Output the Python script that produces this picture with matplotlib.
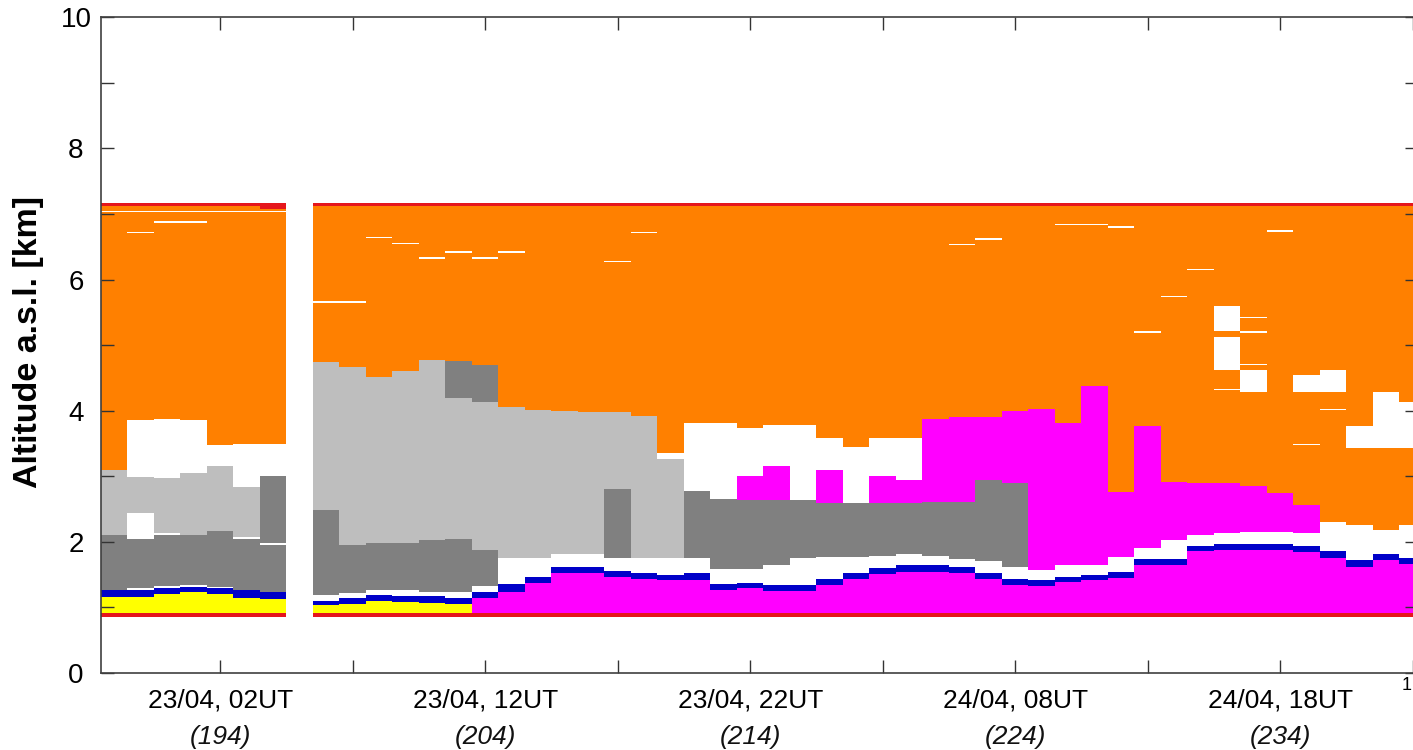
import numpy as np
import matplotlib
matplotlib.use("Agg")
import matplotlib.pyplot as plt
from matplotlib.colors import ListedColormap, BoundaryNorm

plt.rcParams['font.family'] = ['Liberation Sans', 'DejaVu Sans']

# ---------------- data (profile numbers = hourly profiles) ----------------
profiles = [190, 191, 192, 193, 194, 195, 196,
            198, 199, 200, 201, 202, 203, 204, 205, 206, 207, 208, 209, 210,
            211, 212, 213, 214, 215, 216, 217, 218, 219, 220, 221, 222, 223,
            224, 225, 226, 227, 228, 229, 230, 231, 232, 233, 234, 235, 236,
            237, 238, 239]

# lowest layer class (Y = yellow, M = magenta) and its top [km]
base_cls = ["Y"] * 13 + ["M"] * 36
base_top = [1.16, 1.16, 1.20, 1.23, 1.20, 1.15, 1.13,
            1.03, 1.05, 1.10, 1.08, 1.07, 1.05, 1.14, 1.24, 1.38, 1.52, 1.52, 1.47, 1.44,
            1.42, 1.42, 1.27, 1.29, 1.25, 1.25, 1.34, 1.43, 1.51, 1.54, 1.54, 1.52, 1.43,
            1.34, 1.32, 1.39, 1.42, 1.45, 1.65, 1.65, 1.86, 1.88, 1.88, 1.88, 1.85, 1.76,
            1.62, 1.72, 1.66]
# top of the thin blue layer [km]
blue_top = [1.27, 1.27, 1.30, 1.31, 1.29, 1.27, 1.23,
            1.10, 1.15, 1.19, 1.18, 1.17, 1.15, 1.24, 1.35, 1.47, 1.61, 1.62, 1.55, 1.52,
            1.50, 1.52, 1.35, 1.38, 1.34, 1.34, 1.43, 1.52, 1.60, 1.64, 1.64, 1.62, 1.52,
            1.44, 1.42, 1.47, 1.50, 1.54, 1.74, 1.74, 1.94, 1.96, 1.96, 1.96, 1.94, 1.86,
            1.72, 1.82, 1.76]
# top of the white gap above the blue layer [km]
gap_top = [1.27, 1.29, 1.32, 1.34, 1.31, 1.27, 1.23,
           1.19, 1.22, 1.27, 1.27, 1.24, 1.24, 1.33, 1.75, 1.75, 1.81, 1.81, 1.75, 1.75,
           1.75, 1.75, 1.59, 1.59, 1.64, 1.76, 1.77, 1.77, 1.79, 1.81, 1.79, 1.74, 1.71,
           1.61, 1.57, 1.64, 1.64, 1.77, 1.91, 2.03, 2.11, 2.14, 2.15, 2.15, 2.13, 2.31,
           2.26, 2.18, 2.26]
# layers above the gap: class + top [km]; orange fills the rest up to the top
upper_layers = ["D2.10 L3.10", "D2.05 W2.44 L2.99 W3.86", "D2.11 W2.13 L2.97 W3.88",
                "D2.10 L3.05 W3.86", "D2.17 L3.16 W3.48", "D2.05 W2.07 L2.84 W3.49",
                "D1.95 W1.98 D3.00 W3.50",
                "D2.48 L4.75", "D1.95 L4.67", "D1.99 L4.52", "D1.99 L4.60", "D2.03 L4.77",
                "D2.05 L4.20 D4.76", "D1.88 L4.14 D4.70", "L4.06", "L4.01", "L3.99",
                "L3.98", "D2.80 L3.98", "L3.92",
                "L3.27 W3.35", "D2.77 W3.81", "D2.66 W3.81", "D2.64 M3.00 W3.73",
                "D2.64 M3.16 W3.78", "D2.64 W3.78", "D2.60 M3.09 W3.59", "D2.60 W3.44",
                "D2.59 M3.00 W3.59", "D2.59 M2.95 W3.59", "D2.61 M3.88", "D2.61 M3.90",
                "D2.94 M3.91",
                "D2.90 M3.99", "M4.02", "M3.81", "M4.38", "M2.76", "M3.76", "M2.92",
                "M2.90", "M2.90 O4.62 W5.13 O5.21 W5.60", "M2.85 O4.29 W4.62", "M2.74",
                "M2.56 O4.29 W4.54", "O4.29 W4.62",
                "O3.43 W3.76", "O3.43 W4.29", "O3.43 W4.14"]

# thin white lines inside the orange layer (profile, altitude km)
dash_profiles = [190, 191, 192, 193, 194, 195, 196, 191, 192, 193, 198, 199, 200, 201,
                 202, 203, 204, 205, 209, 210, 222, 223, 226, 227, 228, 229, 230,
                 231, 233, 233, 233, 232, 234, 235, 236]
dash_alts = [7.04, 7.04, 7.04, 7.04, 7.04, 7.04, 7.04, 6.72, 6.88, 6.88, 5.66, 5.66,
             6.64, 6.55, 6.33, 6.42, 6.33, 6.42, 6.28, 6.72, 6.54, 6.62, 6.84, 6.84,
             6.80, 5.20, 5.74, 6.15, 5.42, 5.20, 4.70, 4.32, 6.74, 3.49, 4.02]

ground_red = (0.86, 0.92)
top_red = (7.12, 7.17)

tick_profiles = [194, 204, 214, 224, 234]
tick_times = ["23/04, 02UT", "23/04, 12UT", "23/04, 22UT", "24/04, 08UT", "24/04, 18UT"]

# ---------------- classes / colours ----------------
classes = ["W", "R", "Y", "B", "D", "L", "O", "M"]
colors = ["#FFFFFF", "#E5161C", "#FFFF00", "#0000C8", "#808080", "#BEBEBE",
          "#FF8000", "#FF00FF"]
cidx = {c: i for i, c in enumerate(classes)}

dz = 0.005
z_edges = np.arange(0.85, 7.20 + dz / 2, dz)
z_mid = 0.5 * (z_edges[:-1] + z_edges[1:])
x_edges = np.arange(189.5, 240.0, 1.0)
ncol = len(x_edges) - 1
grid = np.full((len(z_mid), ncol), np.nan)


def fill(col, lo, hi, cls):
    sel = (z_mid >= lo) & (z_mid < hi)
    grid[sel, col] = cidx[cls]


for k, p in enumerate(profiles):
    col = int(p - 190)
    fill(col, ground_red[0], top_red[1], "O")
    fill(col, ground_red[0], ground_red[1], "R")
    fill(col, ground_red[1], base_top[k], base_cls[k])
    fill(col, base_top[k], blue_top[k], "B")
    fill(col, blue_top[k], gap_top[k], "W")
    lo = gap_top[k]
    for seg in upper_layers[k].split():
        hi = float(seg[1:])
        fill(col, lo, hi, seg[0])
        lo = hi
    fill(col, top_red[0] - (0.04 if p == 196 else 0.0), top_red[1], "R")

for p, a in zip(dash_profiles, dash_alts):
    fill(int(p - 190), a - 0.012, a + 0.012, "W")

grid = np.ma.masked_invalid(grid)

# ---------------- figure ----------------
W, H = 1413, 750
fig = plt.figure(figsize=(W / 100, H / 100), dpi=100)
ax = fig.add_axes([101 / W, 77 / H, (1418 - 101) / W, (673 - 17.3) / H])

cmap = ListedColormap(colors)
norm = BoundaryNorm(np.arange(-0.5, len(classes) + 0.5), len(classes))
ax.pcolormesh(x_edges, z_edges, grid, cmap=cmap, norm=norm, shading="flat",
              antialiased=False, rasterized=True)

ax.set_xticks(range(189, 240, 5))
ax.set_xticklabels([tick_times[tick_profiles.index(t)] if t in tick_profiles else ""
                    for t in range(189, 240, 5)])
ax.set_yticks([0, 2, 4, 6, 8, 10])
ax.set_yticks([1, 3, 5, 7, 9], minor=True)
ax.set_yticklabels(["0", "2", "4", "6", "8", "10"])
ax.set_xlim(189.5, 239.2)
ax.set_ylim(0, 10)

ax.tick_params(axis="both", which="both", direction="in", length=9.5, width=1.0,
               top=True, right=True, color="#333333")
ax.tick_params(axis="x", labelsize=19, pad=11.5)
ax.tick_params(axis="y", labelsize=20, pad=18)
for lbl in ax.get_yticklabels():
    lbl.set_horizontalalignment("center")

for s in ax.spines.values():
    s.set_color("#404040")
    s.set_linewidth(1.2)

for t in tick_profiles:
    ax.annotate(f"({t})", xy=(t, 0), xycoords=("data", "axes fraction"),
                xytext=(0, -46), textcoords="offset points", ha="center",
                va="center", fontsize=19, style="italic", color="#111111")

fig.text(29 / W, 1 - 342 / H, "Altitude a.s.l. [km]", rotation=90, ha="center",
         va="center", fontsize=24.5, fontweight="bold")
fig.text(1402 / W, 1 - 686 / H, "1", fontsize=13, ha="left", va="center")

fig.savefig("out.png", dpi=100)
